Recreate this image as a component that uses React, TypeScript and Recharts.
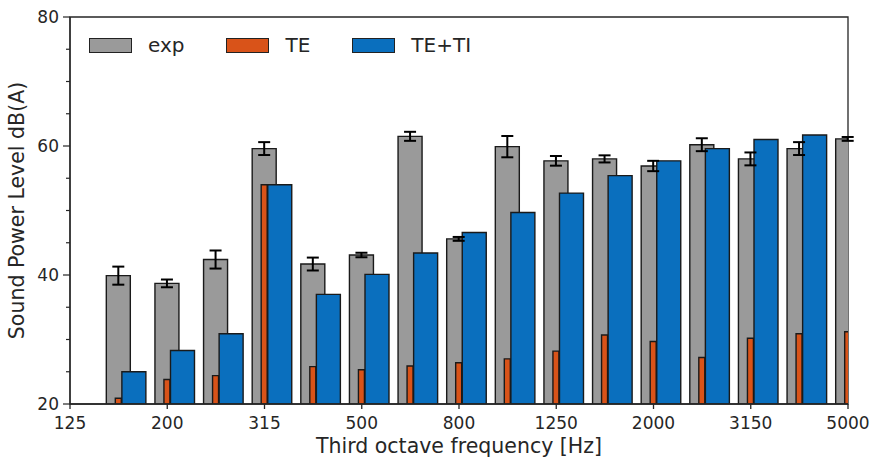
import React from 'react';
import { ComposedChart, Bar, XAxis, YAxis, ErrorBar, Legend, ReferenceArea } from 'recharts';

// third octave bands shown on the axis (125 Hz is the left edge, no data there)
const bands = [125, 160, 200, 250, 315, 400, 500, 630, 800, 1000, 1250, 1600, 2000, 2500, 3150, 4000, 5000];
const freqs = [160, 200, 250, 315, 400, 500, 630, 800, 1000, 1250, 1600, 2000, 2500, 3150, 4000, 5000];

const expLevel = [39.9, 38.7, 42.4, 59.6, 41.7, 43.1, 61.5, 45.6, 59.9, 57.7, 58.0, 56.9, 60.2, 58.0, 59.6, 61.1];
const expError = [1.4, 0.6, 1.4, 1.0, 1.0, 0.35, 0.7, 0.3, 1.65, 0.75, 0.55, 0.8, 1.0, 1.0, 1.0, 0.3];
const teLevel = [20.9, 23.8, 24.4, 54.0, 25.8, 25.3, 25.9, 26.4, 27.0, 28.2, 30.7, 29.7, 27.2, 30.2, 30.9, 31.2];
const tetiLevel = [25.0, 28.3, 30.9, 54.0, 37.0, 40.1, 43.4, 46.6, 49.7, 52.7, 55.4, 57.7, 59.6, 61.0, 61.7, 62.3];

const xTickLabels = [125, 200, 315, 500, 800, 1250, 2000, 3150, 5000];
const yMajorTicks = [20, 40, 60, 80];
const yMinorTicks = [25, 30, 35, 45, 50, 55, 65, 70, 75];

const series = [
  { key: 'exp', name: 'exp', color: '#9a9a9a' },
  { key: 'te', name: 'TE', color: '#d95319' },
  { key: 'teti', name: 'TE+TI', color: '#0a6fbe' },
];

const data = freqs.map((f, i) => ({
  band: bands.indexOf(f),
  exp: expLevel[i],
  expErr: expError[i],
  te: teLevel[i],
  teti: tetiLevel[i],
}));

const FONT = '"DejaVu Sans", sans-serif';
const INK = '#262626';
const EDGE = '#1a1a1a';
const LAST = bands.length - 1;
const TETI_SHIFT = 0.32; // blue bars sit a third of a band to the right

const YTick = (props: any) => {
  const { x, y, payload } = props;
  const major = yMajorTicks.includes(payload.value);
  const axisX = x + 11;
  return (
    <g>
      <line x1={axisX - (major ? 7 : 4)} x2={axisX} y1={y} y2={y} stroke={INK} strokeWidth={1.2} />
      {major && (
        <text x={x} y={y} dy="0.36em" textAnchor="end" fill={INK} fontSize={17} fontFamily={FONT}>
          {payload.value}
        </text>
      )}
    </g>
  );
};

const LegendContent = () => (
  <div style={{ display: 'flex', alignItems: 'center', height: 24, fontFamily: FONT, fontSize: 20, color: INK }}>
    {series.map((s) => (
      <div key={s.key} style={{ display: 'flex', alignItems: 'center', marginRight: 42 }}>
        <span
          style={{
            display: 'inline-block',
            width: 41,
            height: 13,
            background: s.color,
            border: '1px solid #222',
            marginRight: 16,
          }}
        />
        <span>{s.name}</span>
      </div>
    ))}
  </div>
);

export default function App() {
  return (
    <div style={{ position: 'absolute', left: 0, top: 0, background: '#fff' }}>
      <ComposedChart width={873} height={461} data={data} margin={{ top: 17, right: 25, bottom: 0, left: 0 }}>
        <XAxis
          xAxisId="freq"
          dataKey="band"
          type="number"
          domain={[0, LAST]}
          allowDataOverflow
          ticks={xTickLabels.map((f) => bands.indexOf(f))}
          interval={0}
          tickFormatter={(v: number) => String(bands[v])}
          height={57}
          tickSize={5}
          tickMargin={8}
          stroke={INK}
          strokeWidth={1.3}
          tick={{ fill: INK, fontSize: 17, fontFamily: FONT }}
          label={{
            value: 'Third octave frequency [Hz]',
            position: 'insideBottom',
            offset: 8,
            fill: INK,
            fontSize: 20.5,
            fontFamily: FONT,
          }}
        />
        <XAxis xAxisId="te" dataKey="band" type="number" domain={[0, LAST]} allowDataOverflow hide height={0} />
        <XAxis
          xAxisId="teti"
          dataKey="band"
          type="number"
          domain={[-TETI_SHIFT, LAST - TETI_SHIFT]}
          allowDataOverflow
          hide
          height={0}
        />
        <XAxis xAxisId="err" dataKey="band" type="number" domain={[0, LAST]} allowDataOverflow hide height={0} />
        <YAxis
          type="number"
          domain={[20, 80]}
          allowDataOverflow
          ticks={[...yMajorTicks, ...yMinorTicks].sort((a, b) => a - b)}
          interval={0}
          width={70}
          tickSize={7}
          tickMargin={4}
          tickLine={false}
          tick={<YTick />}
          stroke={INK}
          strokeWidth={1.3}
          label={{
            value: 'Sound Power Level dB(A)',
            angle: -90,
            position: 'insideLeft',
            offset: 17,
            textAnchor: 'middle',
            fill: INK,
            fontSize: 20.5,
            fontFamily: FONT,
          }}
        />
        <ReferenceArea
          xAxisId="freq"
          x1={0}
          x2={LAST}
          y1={20}
          y2={80}
          fill="none"
          stroke={INK}
          strokeWidth={1.3}
        />
        <Legend
          layout="horizontal"
          verticalAlign="middle"
          align="center"
          wrapperStyle={{ top: 33, left: 89, width: 'auto' }}
          content={<LegendContent />}
        />
        <Bar
          xAxisId="freq"
          dataKey="exp"
          name="exp"
          barSize={24}
          fill={series[0].color}
          stroke={EDGE}
          strokeWidth={1.4}
          isAnimationActive={false}
        />
        <Bar
          xAxisId="te"
          dataKey="te"
          name="TE"
          barSize={6}
          fill={series[1].color}
          stroke={EDGE}
          strokeWidth={1.4}
          isAnimationActive={false}
        />
        <Bar
          xAxisId="teti"
          dataKey="teti"
          name="TE+TI"
          barSize={24}
          fill={series[2].color}
          stroke={EDGE}
          strokeWidth={1.4}
          isAnimationActive={false}
        />
        <Bar
          xAxisId="err"
          dataKey="exp"
          barSize={24}
          fill="transparent"
          stroke="none"
          legendType="none"
          isAnimationActive={false}
        >
          <ErrorBar dataKey="expErr" direction="y" width={6} stroke="#000" strokeWidth={2} />
        </Bar>
      </ComposedChart>
    </div>
  );
}
